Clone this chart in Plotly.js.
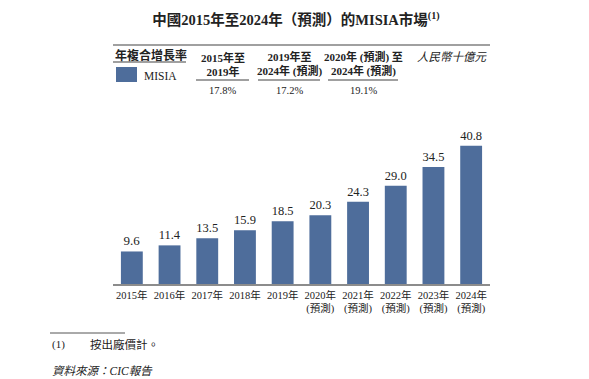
<!DOCTYPE html>
<html><head><meta charset="utf-8">
<script src="https://cdn.plot.ly/plotly-3.0.1.min.js"></script>
<style>html,body{margin:0;padding:0;background:#fff}#chart{width:589px;height:379px}</style>
</head><body><div id="chart"></div>
<script>
const categories = ['2015年','2016年','2017年','2018年','2019年','2020年<br>(預測)','2021年<br>(預測)','2022年<br>(預測)','2023年<br>(預測)','2024年<br>(預測)'];
const values = [9.6, 11.4, 13.5, 15.9, 18.5, 20.3, 24.3, 29.0, 34.5, 40.8];
const valueLabels = ['9.6','11.4','13.5','15.9','18.5','20.3','24.3','29.0','34.5','40.8'];
const seriesName = 'MISIA';
const cagrPeriods = ['2015年至<br>2019年','2019年至<br>2024年 (預測)','2020年 (預測) 至<br>2024年 (預測)'];
const cagrValues = ['17.8%','17.2%','19.1%'];

const SERIF = '"Liberation Serif", "Times New Roman", "Noto Sans CJK TC", serif';
const TXT = '#222';
const BAR = '#4e6d9b';
const L = 113, R = 490, T = 140, B = 284;
const px = x => (x - L) / (R - L);
const py = y => (B - y) / (B - T);

const colCenters = [222.5, 289, 363];
const colSpans = [[196,249],[258,320],[328,398]];

const annotations = [];
const shapes = [];
shapes.push({type:'line', xref:'paper', yref:'paper', x0:px(113), x1:px(490), y0:py(45), y1:py(45), line:{color:'#a0a0a0', width:2}});
annotations.push({xref:'paper', yref:'paper', x:px(113), y:py(55), xanchor:'left', yanchor:'middle', showarrow:false,
  text:'<b>年複合增長率</b>', font:{family:SERIF, size:12, color:TXT}});
shapes.push({type:'line', xref:'paper', yref:'paper', x0:px(113), x1:px(186), y0:py(62), y1:py(62), line:{color:'#808080', width:1.3}});
shapes.push({type:'rect', xref:'paper', yref:'paper', x0:px(116), x1:px(137), y0:py(67), y1:py(82), line:{width:0}, fillcolor:BAR});
annotations.push({xref:'paper', yref:'paper', x:px(142), y:py(76), xanchor:'left', yanchor:'middle', showarrow:false,
  text:seriesName, font:{family:SERIF, size:11.5, color:TXT}});
cagrPeriods.forEach((t,i) => {
  annotations.push({xref:'paper', yref:'paper', x:px(colCenters[i]), y:py(64), xanchor:'center', yanchor:'middle', showarrow:false,
    text:'<b>'+t+'</b>', font:{family:SERIF, size:11, color:TXT}, align:'center'});
  shapes.push({type:'line', xref:'paper', yref:'paper', x0:px(colSpans[i][0]), x1:px(colSpans[i][1]), y0:py(80), y1:py(80), line:{color:'#808080', width:1.3}});
  annotations.push({xref:'paper', yref:'paper', x:px(colCenters[i]), y:py(90.5), xanchor:'center', yanchor:'middle', showarrow:false,
    text:cagrValues[i], font:{family:SERIF, size:10.5, color:TXT}});
});
annotations.push({xref:'paper', yref:'paper', x:px(452), y:py(57.5), xanchor:'center', yanchor:'middle', showarrow:false,
  text:'<i>人民幣十億元</i>', font:{family:SERIF, size:11.5, color:TXT}});
shapes.push({type:'line', xref:'paper', yref:'paper', x0:px(50), x1:px(125), y0:py(333), y1:py(333), line:{color:'#555', width:1}});
annotations.push({xref:'paper', yref:'paper', x:px(50), y:py(344.5), xanchor:'left', yanchor:'middle', showarrow:false,
  text:'(1)', font:{family:SERIF, size:11, color:TXT}});
annotations.push({xref:'paper', yref:'paper', x:px(88), y:py(344.5), xanchor:'left', yanchor:'middle', showarrow:false,
  text:'按出廠價計。', font:{family:SERIF, size:11.5, color:TXT}});
annotations.push({xref:'paper', yref:'paper', x:px(50), y:py(370.5), xanchor:'left', yanchor:'middle', showarrow:false,
  text:'<i>資料來源：CIC報告</i>', font:{family:SERIF, size:11.5, color:TXT}});

const trace = {
  type:'bar', x:categories, y:values, name:seriesName,
  marker:{color:BAR, line:{width:0}}, width:0.58,
  text:valueLabels, textposition:'outside', cliponaxis:false,
  textfont:{family:SERIF, size:13, color:TXT},
  hoverinfo:'x+y'
};

const layout = {
  width:589, height:379,
  margin:{l:L, r:589-R, t:T, b:379-B, pad:0},
  paper_bgcolor:'#fff', plot_bgcolor:'#fff',
  showlegend:false,
  title:{text:'<b>中國2015年至2024年（預測）的MISIA市場<sup>(1)</sup></b>', x:296/589, xanchor:'center', y:1-20/379, yanchor:'middle',
    font:{family:SERIF, size:14.5, color:TXT}},
  xaxis:{type:'category', range:[-0.5, 9.5], showline:true, linecolor:'#8c8c8c', linewidth:2, ticks:'', showgrid:false,
    tickangle:0, automargin:false,
    tickfont:{family:SERIF, size:10.5, color:TXT}, fixedrange:true},
  yaxis:{range:[0, 42.5], visible:false, showgrid:false, zeroline:false, fixedrange:true},
  annotations, shapes
};
Plotly.newPlot('chart', [trace], layout, {displayModeBar:false, staticPlot:true});
</script></body></html>
